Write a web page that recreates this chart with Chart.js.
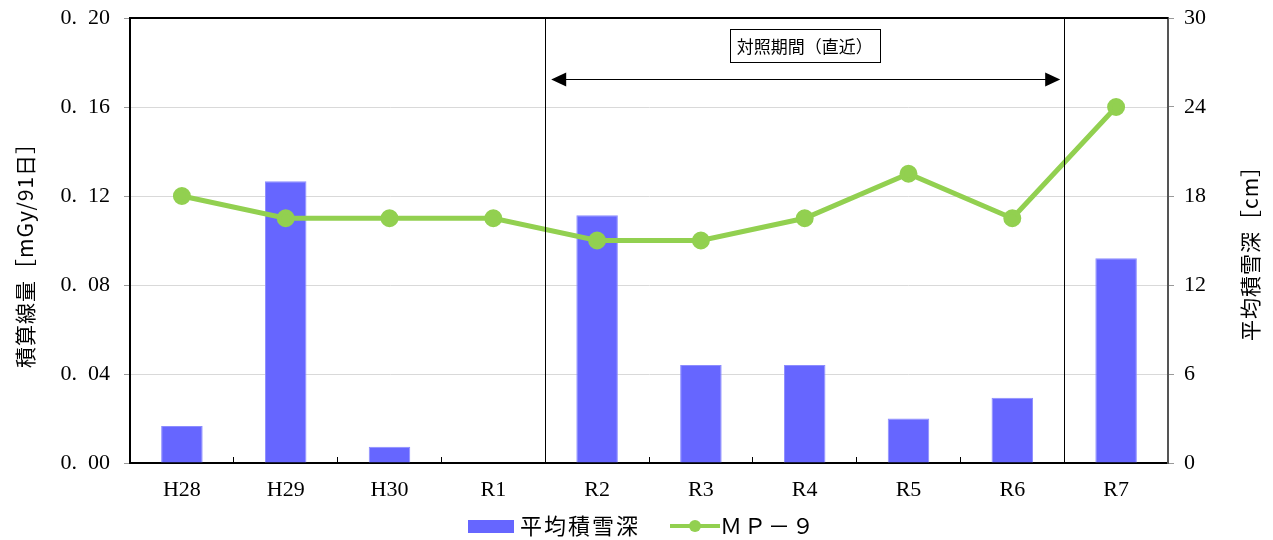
<!DOCTYPE html>
<html>
<head>
<meta charset="utf-8">
<script src="https://cdn.jsdelivr.net/npm/chart.js@4"></script>
<style>
  html, body { margin: 0; padding: 0; background: #fff; }
  #wrap { width: 1273px; height: 540px; }
</style>
</head>
<body>
<div id="wrap"><canvas id="chart"></canvas></div>
<script>
const years = ['H28', 'H29', 'H30', 'R1', 'R2', 'R3', 'R4', 'R5', 'R6', 'R7'];
const snowDepth = [2.5, 19.0, 1.1, 0, 16.7, 6.6, 6.6, 3.0, 4.4, 13.8];
const doseMP9 = [0.12, 0.11, 0.11, 0.11, 0.10, 0.10, 0.11, 0.13, 0.11, 0.16];
const doseTicks = [0, 0.04, 0.08, 0.12, 0.16, 0.20];
const depthTicks = [0, 6, 12, 18, 24, 30];
const periodLabel = '対照期間（直近）';
const periodStart = 'R2';
const periodEnd = 'R6';
const leftTitle = '積算線量［mGy/91日］';
const rightTitle = '平均積雪深［cm］';

const serif = "'Liberation Serif', 'DejaVu Serif', serif";
const jp = "'Noto Sans CJK JP', sans-serif";

// keep the plot box fixed, labels may overhang the padding
function noPad(axis) {
  axis.paddingTop = 0;
  axis.paddingBottom = 0;
}

const periodPlugin = {
  id: 'period',
  afterDatasetsDraw(chart) {
    const { ctx, chartArea, scales } = chart;
    const x = scales.x, y = scales.y;
    const i0 = years.indexOf(periodStart), i1 = years.indexOf(periodEnd);
    const left = (x.getPixelForValue(i0 - 1) + x.getPixelForValue(i0)) / 2;
    const right = (x.getPixelForValue(i1) + x.getPixelForValue(i1 + 1)) / 2;
    ctx.save();
    ctx.strokeStyle = '#000';
    ctx.lineWidth = 1;
    [left, right].forEach(px => {
      ctx.beginPath();
      ctx.moveTo(Math.round(px) + 0.5, chartArea.top);
      ctx.lineTo(Math.round(px) + 0.5, chartArea.bottom);
      ctx.stroke();
    });
    // arrow
    const ay = Math.round(y.getPixelForValue(0.1726)) + 0.5;
    const aL = left + 6, aR = right - 4;
    ctx.beginPath();
    ctx.moveTo(aL + 10, ay);
    ctx.lineTo(aR - 10, ay);
    ctx.stroke();
    ctx.fillStyle = '#000';
    ctx.beginPath();
    ctx.moveTo(aL, ay); ctx.lineTo(aL + 15, ay - 7); ctx.lineTo(aL + 15, ay + 7); ctx.closePath(); ctx.fill();
    ctx.beginPath();
    ctx.moveTo(aR, ay); ctx.lineTo(aR - 15, ay - 7); ctx.lineTo(aR - 15, ay + 7); ctx.closePath(); ctx.fill();
    // label box
    const cx = (left + right) / 2;
    const by = y.getPixelForValue(0.1875);
    ctx.font = '17px ' + jp;
    ctx.textAlign = 'center';
    ctx.textBaseline = 'middle';
    const w = 150, h = 33;
    ctx.fillStyle = '#fff';
    ctx.fillRect(Math.round(cx - w / 2) + 0.5, Math.round(by - h / 2) + 0.5, w, h);
    ctx.strokeRect(Math.round(cx - w / 2) + 0.5, Math.round(by - h / 2) + 0.5, w, h);
    ctx.fillStyle = '#000';
    ctx.fillText(periodLabel, cx, by + 1);
    ctx.restore();
  },
  afterDraw(chart) {
    const { ctx, chartArea } = chart;
    ctx.save();
    // frame
    ctx.strokeStyle = '#000';
    ctx.lineWidth = 2;
    ctx.beginPath();
    ctx.moveTo(chartArea.left, chartArea.top);
    ctx.lineTo(chartArea.right, chartArea.top);
    ctx.stroke();
    // axis titles (both read bottom-to-top)
    ctx.font = '21px ' + jp;
    ctx.letterSpacing = '1px';
    ctx.fillStyle = '#000';
    ctx.textAlign = 'center';
    ctx.textBaseline = 'middle';
    [[25, leftTitle, 250], [1250, rightTitle, 248]].forEach(([tx, t, ty]) => {
      ctx.save();
      ctx.translate(tx, ty);
      ctx.rotate(-Math.PI / 2);
      ctx.fillText(t, 0, 0);
      ctx.restore();
    });
    // legend
    const ly = 526;
    ctx.font = '22px ' + jp;
    ctx.letterSpacing = '2px';
    ctx.textBaseline = 'middle';
    ctx.textAlign = 'left';
    let x = 468;
    ctx.fillStyle = '#6666FF';
    ctx.fillRect(x, ly - 6, 46, 13);
    ctx.fillStyle = '#000';
    ctx.fillText('平均積雪深', x + 52, ly);
    x = 670;
    ctx.strokeStyle = '#92D050';
    ctx.lineWidth = 4;
    ctx.beginPath(); ctx.moveTo(x, ly); ctx.lineTo(x + 50, ly); ctx.stroke();
    ctx.fillStyle = '#92D050';
    ctx.beginPath(); ctx.arc(x + 25, ly, 6, 0, Math.PI * 2); ctx.fill();
    ctx.fillStyle = '#000';
    ctx.fillText('ＭＰ－９', x + 50, ly);
    ctx.restore();
  }
};

new Chart(document.getElementById('chart'), {
  data: {
    labels: years,
    datasets: [
      {
        type: 'line',
        label: 'ＭＰ－９',
        data: doseMP9,
        yAxisID: 'y',
        borderColor: '#92D050',
        backgroundColor: '#92D050',
        borderWidth: 5,
        pointRadius: 6.5,
        pointHoverRadius: 6.5,
        tension: 0,
        order: 0
      },
      {
        type: 'bar',
        label: '平均積雪深',
        data: snowDepth,
        yAxisID: 'y1',
        backgroundColor: '#6666FF',
        borderColor: '#8C8CFF',
        borderWidth: 1,
        barPercentage: 0.4,
        categoryPercentage: 1,
        order: 1
      }
    ]
  },
  options: {
    responsive: true,
    maintainAspectRatio: false,
    animation: false,
    layout: { padding: { left: 0, right: 0, top: 18, bottom: 32 } },
    plugins: {
      legend: { display: false },
      tooltip: { enabled: false }
    },
    scales: {
      x: {
        offset: true,
        afterFit(axis) { axis.height = 45; },
        grid: {
          display: true,
          offset: true,
          drawOnChartArea: false,
          drawTicks: true,
          tickLength: -6,
          color: '#000'
        },
        border: { color: '#000', width: 2 },
        ticks: {
          color: '#000',
          padding: 20,
          font: { family: serif, size: 22 }
        }
      },
      y: {
        position: 'left',
        min: 0,
        max: 0.2,
        afterFit(axis) { axis.width = 130; noPad(axis); },
        afterBuildTicks(axis) { axis.ticks = doseTicks.map(v => ({ value: v })); },
        grid: { color: '#d9d9d9', tickLength: 6, tickColor: '#999' },
        border: { color: '#000', width: 2 },
        ticks: {
          color: '#000',
          padding: 14,
          font: { family: serif, size: 22 },
          callback: v => v.toFixed(2).replace('.', '.\u2002')
        }
      },
      y1: {
        position: 'right',
        min: 0,
        max: 30,
        afterFit(axis) { axis.width = 105; noPad(axis); },
        afterBuildTicks(axis) { axis.ticks = depthTicks.map(v => ({ value: v })); },
        grid: { drawOnChartArea: false, tickLength: 6, tickColor: '#999' },
        border: { color: '#555', width: 2 },
        ticks: {
          color: '#000',
          padding: 10,
          font: { family: serif, size: 22 }
        }
      }
    }
  },
  plugins: [periodPlugin]
});
</script>
</body>
</html>
